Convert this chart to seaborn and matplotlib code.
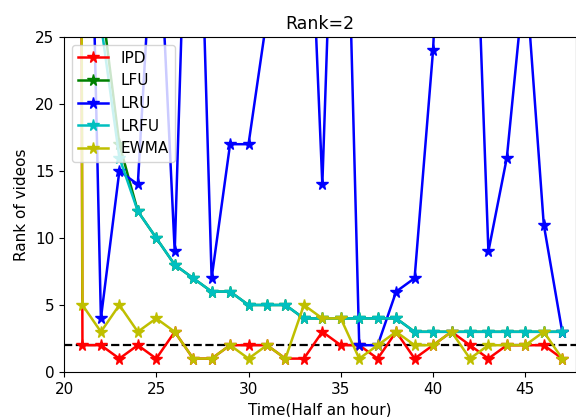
import matplotlib
matplotlib.use("Agg")
import matplotlib.pyplot as plt
import seaborn as sns
import pandas as pd

time = list(range(20, 48))

ipd = [500, 2, 2, 1, 2, 1, 3, 1, 1, 2, 2, 2, 1, 1, 3, 2, 2, 1, 3, 1, 2, 3, 2, 1, 2, 2, 2, 1]
lfu = [200, 60, 28, 17, 12, 10, 8, 7, 6, 6, 5, 5, 5, 4, 4, 4, 4, 4, 4, 3, 3, 3, 3, 3, 3, 3, 3, 3]
lru = [300, 66, 4, 15, 14, 38, 9, 54, 7, 17, 17, 26.5, 35, 47, 14, 55, 2, 2, 6, 7, 24, 53, 47, 9, 16, 30, 11, 3]
lrfu = [200, 60, 26, 16, 12, 10, 8, 7, 6, 6, 5, 5, 5, 4, 4, 4, 4, 4, 4, 3, 3, 3, 3, 3, 3, 3, 3, 3]
ewma = [500, 5, 3, 5, 3, 4, 3, 1, 1, 2, 1, 2, 1, 5, 4, 4, 1, 2, 3, 2, 2, 3, 1, 2, 2, 2, 3, 1]

names = ["IPD", "LFU", "LRU", "LRFU", "EWMA"]
colors = ["r", "g", "b", "c", "y"]
series = [ipd, lfu, lru, lrfu, ewma]

plt.rcParams["font.family"] = ["DejaVu Sans"]
plt.rcParams["font.size"] = 11

fig = plt.figure(figsize=(5.76, 4.17), dpi=100)
ax = fig.add_axes([64 / 576, 1 - 372 / 417, (575.5 - 64) / 576, (372 - 37) / 417])

ax.axhline(2, color="k", linestyle="--", linewidth=1.6, zorder=1)

for name, col, vals in zip(names, colors, series):
    df = pd.DataFrame({"t": time, "v": vals})
    sns.lineplot(data=df, x="t", y="v", color=col, marker="*", markersize=8.5,
                 linewidth=1.8, label=name, ax=ax, markeredgecolor=col,
                 markeredgewidth=1.0)

ax.set_xlim(20, 47.72)
ax.set_ylim(0, 25)
ax.set_xticks([20, 25, 30, 35, 40, 45])
ax.set_yticks([0, 5, 10, 15, 20, 25])
ax.set_title("Rank=2", fontsize=12.5)
ax.set_xlabel("Time(Half an hour)", fontsize=11)
ax.set_ylabel("Rank of videos", fontsize=11)
ax.tick_params(labelsize=11)
ax.legend(loc="upper left", fontsize=11)

fig.savefig("out.png", dpi=100)
